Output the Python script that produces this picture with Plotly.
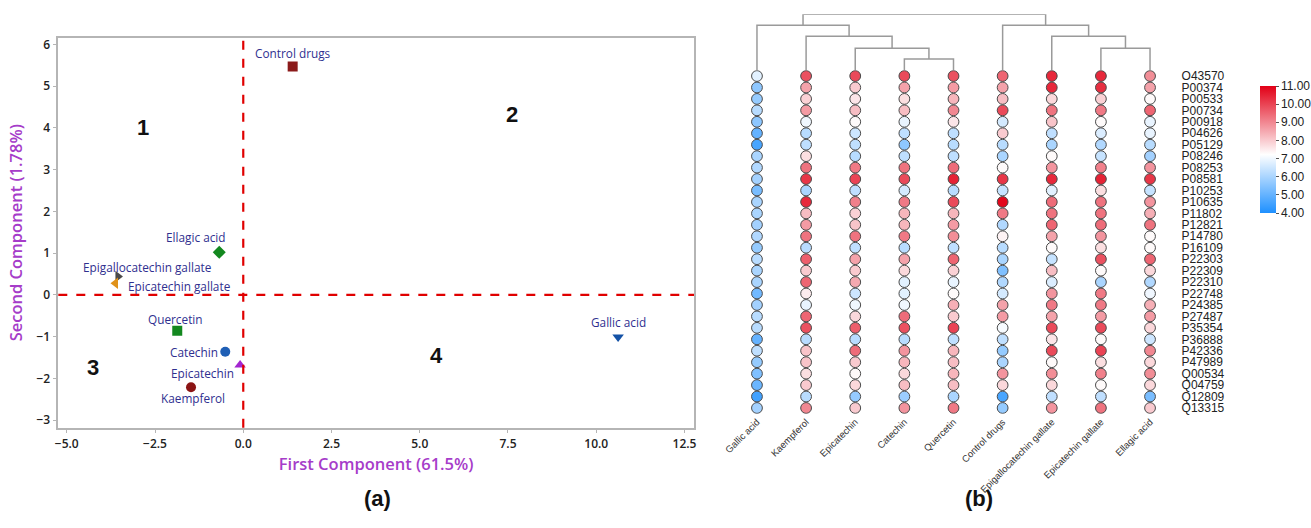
import plotly.graph_objects as go

W, H = 1311, 528

# ---------------- Panel (a): PCA score plot ----------------
pca_names = ["Control drugs", "Ellagic acid", "Epigallocatechin gallate", "Epicatechin gallate",
             "Quercetin", "Catechin", "Epicatechin", "Kaempferol", "Gallic acid"]
pc1 = [1.40, -0.68, -3.55, -3.62, -1.87, -0.51, -0.09, -1.48, 10.62]
pc2 = [5.47, 1.02, 0.44, 0.28, -0.86, -1.36, -1.68, -2.21, -1.01]
pca_symbols = ["square", "diamond", "triangle-right", "triangle-left", "square", "circle",
               "triangle-up", "circle", "triangle-down"]
pca_colors = ["#8B1A1A", "#13881F", "#4A4A4A", "#E0921A", "#13881F", "#1F5FB5",
              "#A326D0", "#8B1414", "#1452A6"]
# label offsets in pixels (dx, dy, xanchor)
label_offsets = [(0, 14, "center"), (-23, 15, "center"), (30, 10, "center"), (11, -3, "left"),
                 (-2, 12, "center"), (-5, 0, "right"), (-38, -8, "center"), (2, -11, "center"),
                 (0, 15, "center")]
quad_labels = ["1", "2", "3", "4"]
quad_x = [-2.83, 7.62, -4.27, 5.48]
quad_y = [4.0, 4.31, -1.73, -1.44]

x_ticks = [-5.0, -2.5, 0.0, 2.5, 5.0, 7.5, 10.0, 12.5]
y_ticks = [-3, -2, -1, 0, 1, 2, 3, 4, 5, 6]

# ---------------- Panel (b): clustered circle heatmap ----------------
compounds = ["Gallic acid", "Kaempferol", "Epicatechin", "Catechin", "Quercetin",
             "Control drugs", "Epigallocatechin gallate", "Epicatechin gallate", "Ellagic acid"]
proteins = ["O43570", "P00374", "P00533", "P00734", "P00918", "P04626", "P05129", "P08246",
            "P08253", "P08581", "P10253", "P10635", "P11802", "P12821", "P14780", "P16109",
            "P22303", "P22309", "P22310", "P22748", "P24385", "P27487", "P35354", "P36888",
            "P42336", "P47989", "Q00534", "Q04759", "Q12809", "Q13315"]

gallic_acid = [6.8, 5.6, 5.7, 6.2, 5.6, 5.0, 4.6, 6.0, 6.1, 5.9, 5.3, 6.0, 6.0, 5.9, 6.1,
               5.7, 6.2, 6.0, 6.0, 5.2, 5.9, 6.2, 6.2, 5.0, 6.3, 5.7, 5.4, 5.1, 4.5, 5.9]
kaempferol = [9.8, 8.6, 7.9, 8.7, 7.0, 6.2, 6.3, 7.7, 9.3, 10.2, 6.0, 10.4, 8.2, 8.7, 9.3,
              6.2, 9.6, 8.0, 9.5, 7.5, 6.9, 9.5, 9.8, 6.2, 8.1, 8.1, 7.7, 8.0, 6.2, 9.0]
epicatechin = [9.9, 8.0, 7.6, 8.2, 7.3, 6.5, 6.3, 6.2, 9.2, 10.0, 6.3, 9.1, 7.9, 8.1, 9.3,
               6.3, 8.6, 8.0, 8.5, 6.5, 7.0, 7.8, 9.6, 6.2, 9.4, 8.0, 7.3, 7.8, 5.7, 8.0]
catechin = [9.9, 8.6, 7.7, 8.2, 6.9, 6.3, 5.6, 6.3, 9.3, 9.9, 6.6, 9.2, 8.3, 8.3, 9.2,
            6.2, 8.6, 7.8, 6.8, 6.8, 7.0, 9.4, 9.8, 6.2, 8.8, 8.3, 7.8, 8.2, 5.8, 8.8]
quercetin = [9.8, 8.7, 8.3, 9.0, 7.6, 6.3, 6.2, 6.3, 9.4, 10.5, 6.2, 9.9, 8.3, 8.7, 8.9,
             6.3, 9.5, 7.9, 6.9, 7.3, 8.4, 8.0, 10.0, 6.3, 8.3, 8.2, 8.3, 8.2, 6.0, 9.2]
control_drugs = [9.5, 8.6, 8.2, 9.9, 6.6, 8.0, 6.2, 6.0, 7.3, 10.2, 6.4, 10.9, 9.2, 6.1, 7.4,
                 6.2, 6.0, 5.4, 6.1, 6.6, 8.6, 8.7, 7.1, 6.3, 5.7, 6.0, 8.8, 7.8, 4.6, 5.7]
egcg = [10.4, 10.4, 7.8, 9.3, 8.1, 6.3, 6.0, 7.3, 8.8, 10.4, 6.8, 9.4, 9.3, 9.5, 8.6,
        7.3, 6.4, 8.2, 6.7, 8.8, 9.2, 8.6, 9.9, 7.6, 9.9, 7.3, 8.9, 7.8, 6.3, 8.8]
ecg = [10.4, 10.3, 7.9, 9.2, 7.3, 6.7, 6.1, 6.4, 9.1, 10.5, 7.7, 9.3, 9.3, 9.4, 8.8,
       7.7, 9.8, 7.3, 6.0, 9.2, 9.2, 8.7, 9.9, 7.3, 10.0, 7.7, 9.1, 7.3, 6.3, 9.3]
ellagic_acid = [8.9, 8.6, 7.3, 9.5, 6.9, 6.9, 6.2, 5.9, 8.8, 10.2, 6.4, 8.8, 8.4, 9.3, 7.3,
                7.3, 9.5, 7.8, 6.1, 7.0, 8.4, 8.7, 7.8, 6.5, 9.0, 7.8, 8.9, 7.8, 5.3, 8.0]
heat_columns = [gallic_acid, kaempferol, epicatechin, catechin, quercetin,
                control_drugs, egcg, ecg, ellagic_acid]

# dendrogram merges: (left, right, height); cluster ids are "c<k>"
merges = [("Catechin", "Quercetin", 1.0),
          ("Epicatechin", "c0", 2.0),
          ("Kaempferol", "c1", 3.1),
          ("Gallic acid", "c2", 4.1),
          ("Epicatechin gallate", "Ellagic acid", 2.0),
          ("Epigallocatechin gallate", "c4", 3.1),
          ("Control drugs", "c5", 4.1),
          ("c3", "c6", 5.1)]

colorbar_ticks = [4, 5, 6, 7, 8, 9, 10, 11]

# ---------------- Figure ----------------
fig = go.Figure()

def px_x(p):
    return p / W

def px_y(p):
    return 1 - p / H

# (a) traces
for i, n in enumerate(pca_names):
    fig.add_trace(go.Scatter(
        x=[pc1[i]], y=[pc2[i]], mode="markers", name=n, showlegend=False,
        marker=dict(symbol=pca_symbols[i], color=pca_colors[i], size=10,
                    line=dict(width=0)),
        xaxis="x", yaxis="y"))

for i, n in enumerate(pca_names):
    dx, dy, xa = label_offsets[i]
    fig.add_annotation(x=pc1[i], y=pc2[i], xref="x", yref="y", text=n, showarrow=False,
                       xshift=dx, yshift=dy, xanchor=xa, yanchor="middle",
                       font=dict(family="Open Sans", size=11.8, color="#2F2F8F"))

for t, qx, qy in zip(quad_labels, quad_x, quad_y):
    fig.add_annotation(x=qx, y=qy, xref="x", yref="y", text="<b>%s</b>" % t, showarrow=False,
                       font=dict(family="Liberation Sans", size=22, color="#111111"))

# dashed reference lines
fig.add_shape(type="line", xref="x", yref="y domain", x0=0, x1=0, y0=0, y1=1,
              line=dict(color="#E00000", width=2.2, dash="dash"))
fig.add_shape(type="line", xref="x domain", yref="y", x0=0, x1=1, y0=0, y1=0,
              line=dict(color="#E00000", width=2.2, dash="dash"))

# (b) heatmap circles
hx, hy, hv = [], [], []
for ci, col in enumerate(heat_columns):
    for ri, v in enumerate(col):
        hx.append(ci)
        hy.append(ri)
        hv.append(v)

fig.add_trace(go.Scatter(
    x=hx, y=hy, mode="markers", showlegend=False, xaxis="x2", yaxis="y2",
    marker=dict(symbol="circle", size=10.8, color=hv, cmin=4, cmax=11,
                colorscale=[[0, "rgb(30,144,255)"], [0.46, "rgb(255,255,255)"],
                            [1, "rgb(226,0,22)"]],
                line=dict(color="#4a4a4a", width=1),
                showscale=True,
                colorbar=dict(x=px_x(1260), xanchor="left", y=px_y(86), yanchor="top",
                              len=127 / H, lenmode="fraction", thickness=16,
                              thicknessmode="pixels", xpad=0, ypad=0,
                              tickvals=colorbar_ticks, tickformat=".2f",
                              ticks="outside", ticklen=3, tickcolor="#555",
                              outlinewidth=0,
                              tickfont=dict(family="Liberation Sans", size=12, color="#222")))))

# dendrogram
pos = {n: float(i) for i, n in enumerate(compounds)}
hgt = {n: 0.0 for n in compounds}
dx_, dy_ = [], []
for k, (a, b, h) in enumerate(merges):
    xa, xb = pos[a], pos[b]
    dx_ += [xa, xa, xb, xb, None]
    dy_ += [hgt[a], h, h, hgt[b], None]
    pos["c%d" % k] = (xa + xb) / 2
    hgt["c%d" % k] = h
fig.add_trace(go.Scatter(x=dx_, y=dy_, mode="lines", showlegend=False, xaxis="x3", yaxis="y3",
                         line=dict(color="#9a9a9a", width=1.5), hoverinfo="skip"))

fig.add_annotation(x=px_x(362), y=px_y(513), xref="paper", yref="paper", text="<b>(a)</b>",
                   showarrow=False, font=dict(family="Liberation Sans", size=22, color="#111"))
fig.add_annotation(x=px_x(995), y=px_y(513), xref="paper", yref="paper", text="<b>(b)</b>",
                   showarrow=False, font=dict(family="Liberation Sans", size=22, color="#111"))

tickfont_a = dict(family="Open Sans", size=12, color="#222222", weight=600)
title_font = dict(family="Open Sans", size=16.5, color="#A63CC9", weight=600)
fig.update_layout(
    width=W, height=H, margin=dict(l=0, r=0, t=0, b=0, autoexpand=False),
    paper_bgcolor="white", plot_bgcolor="white",
    xaxis=dict(domain=[px_x(58.3), px_x(694)], range=[-5.24, 12.77], tickvals=x_ticks,
               tickformat=".1f", showgrid=False, zeroline=False, showline=True, mirror=True,
               linecolor="#b5b5b5", linewidth=1.5, ticks="outside", ticklen=4,
               tickcolor="#b5b5b5", tickfont=tickfont_a, anchor="y", automargin=False,
               title=dict(text="First Component (61.5%)", standoff=7, font=title_font)),
    yaxis=dict(domain=[px_y(427.7), px_y(37.7)], range=[-3.18, 6.16], tickvals=y_ticks,
               showgrid=False, zeroline=False, showline=True, mirror=True,
               linecolor="#b5b5b5", linewidth=1.5, ticks="outside", ticklen=4,
               tickcolor="#b5b5b5", tickfont=tickfont_a, anchor="x", automargin=False,
               title=dict(text="Second Component (1.78%)", standoff=10, font=title_font)),
    xaxis2=dict(domain=[px_x(732.4), px_x(1174.6)], range=[-0.5, 8.5],
                tickvals=list(range(len(compounds))), ticktext=compounds, tickangle=-45,
                showgrid=False, zeroline=False, showline=False, ticks="", anchor="y2",
                automargin=False,
                tickfont=dict(family="Liberation Sans", size=9.5, color="#333")),
    yaxis2=dict(domain=[px_y(413.7), px_y(70.3)], range=[29.5, -0.5],
                tickvals=list(range(len(proteins))), ticktext=proteins, side="right",
                showgrid=False, zeroline=False, showline=False, ticks="", anchor="x2",
                ticklabelstandoff=6, automargin=False,
                tickfont=dict(family="Liberation Sans", size=12, color="#222")),
    xaxis3=dict(domain=[px_x(732.4), px_x(1174.6)], range=[-0.5, 8.5], visible=False,
                anchor="y3", automargin=False),
    yaxis3=dict(domain=[px_y(70), px_y(14.3)], range=[0, 5.1], visible=False, anchor="x3",
                automargin=False),
)

fig.write_html("out.html", config={"displayModeBar": False},
               post_script="document.body.style.margin='0';document.body.style.overflow='hidden';")
